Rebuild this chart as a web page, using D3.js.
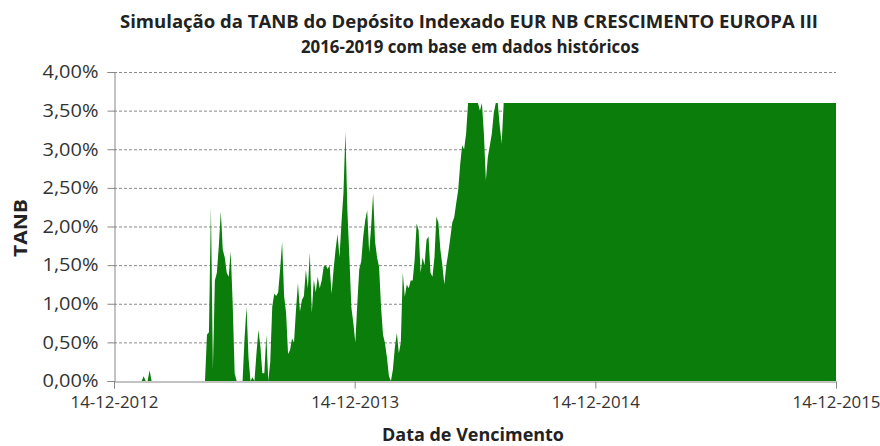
<!DOCTYPE html>
<html>
<head>
<meta charset="utf-8">
<script src="https://cdn.jsdelivr.net/npm/d3@7"></script>
<style>
  body { margin: 0; background: #fff; }
  text { font-family: "Open Sans", "Noto Sans", sans-serif; }
</style>
</head>
<body>
<script>
// chart texts
const titleLines = ["Simulação da TANB do Depósito Indexado EUR NB CRESCIMENTO EUROPA III",
                    "2016-2019 com base em dados históricos"];
const xTitle = "Data de Vencimento";
const yTitle = "TANB";

// one reading every 3 days starting at startDate (TANB in %)
const startDate = "2012-12-14";
const stepDays = 3;
const tanb = [
  0, 0, 0, 0, 0, 0, 0, 0, 0, 0, 0, 0, 0, 0, 0, 0.06, 0, 0, 0.14, 0,
  0, 0, 0, 0, 0, 0, 0, 0, 0, 0, 0, 0, 0, 0, 0, 0, 0, 0, 0, 0,
  0, 0, 0, 0, 0, 0, 0,
  // 47
  0.6, 0.63, 2.25, 0.15, 1.3, 1.4, 1.75, 2.19, 1.7, 1.6,
  1.4, 1.35, 1.68, 1.0, 0.1, 0, 0, 0, 0,
  // 66
  0.55, 0.96, 0.3, 0, 0.05, 0, 0.35, 0.66, 0.45, 0.1,
  0.1, 0.6, 0, 0.25, 0.96, 1.13, 1.1, 1.15, 1.45, 1.8,
  1.1, 0.88, 0.35, 0.4, 0.55, 0.5, 0.92, 1.27, 0.9, 1.05,
  1.1, 1.44, 1.2, 1.66, 0.88, 1.31, 1.15, 1.35, 1.2, 1.3,
  // 106
  1.48, 1.5, 1.45, 1.5, 1.13, 1.44, 1.7, 1.9, 1.6, 2.05,
  2.43, 3.23, 2.2, 1.6, 0.95, 0.75, 0.5, 1.0, 1.45, 1.55,
  1.87, 2.08, 2.21, 1.66, 2.0, 2.43, 1.8, 1.6, 1.48, 0.96,
  0.6, 0.49, 0.3, 0.06, 0, 0.15, 0.44, 0.62, 0.36, 0.5,
  // 146
  1.4, 1.09, 1.25, 1.2, 1.3, 1.3, 1.57, 2.04, 1.95, 1.4,
  1.6, 1.5, 1.83, 1.87, 1.4, 1.35, 1.6, 2.13, 2.05, 1.7,
  1.5, 1.25, 1.5, 1.66, 1.85, 2.05, 2.12, 2.3, 2.47, 2.8,
  3.05, 3.0, 3.2, 3.6, 3.6, 3.6, 3.6, 3.6, 3.6, 3.5,
  // 186
  3.6, 3.2, 2.6, 2.9, 3.05, 3.2, 3.47, 3.6, 3.6, 3.3,
  3.08, 3.6
];
// last point of the series
const endDate = "2015-12-14";
const endValue = 3.6;

const xTickLabels = ["14-12-2012", "14-12-2013", "14-12-2014", "14-12-2015"];
const yTickValues = [0, 0.5, 1, 1.5, 2, 2.5, 3, 3.5, 4];

const W = 880, H = 446;
const plotLeft = 114, plotRight = 836, plotTop = 72, plotBottom = 381;

const parse = d3.utcParse("%Y-%m-%d");
const parseTick = d3.utcParse("%d-%m-%Y");

const data = tanb.map((v, i) => ({date: d3.utcDay.offset(parse(startDate), i * stepDays), v: v}));
data.push({date: parse(endDate), v: endValue});

const svg = d3.select("body").append("svg")
  .attr("width", W).attr("height", H);

const x = d3.scaleUtc()
  .domain([parse(startDate), parse(endDate)])
  .range([plotLeft, plotRight]);
const y = d3.scaleLinear()
  .domain([0, 4])
  .range([plotBottom, plotTop]);

// dashed grid
svg.append("g")
  .selectAll("line")
  .data(yTickValues.filter(d => d > 0))
  .enter().append("line")
  .attr("x1", plotLeft).attr("x2", plotRight)
  .attr("y1", d => y(d) + 0.5).attr("y2", d => y(d) + 0.5)
  .attr("stroke", "#8a8a8a")
  .attr("stroke-width", 1)
  .attr("stroke-dasharray", "3,2");

// area
const area = d3.area()
  .x(d => x(d.date))
  .y0(y(0))
  .y1(d => y(d.v));
svg.append("path")
  .datum(data)
  .attr("d", area)
  .attr("fill", "#0a7d0a");

// y axis
const yAxis = svg.append("g")
  .attr("transform", "translate(" + (plotLeft + 0.5) + ",0)")
  .call(d3.axisLeft(y)
    .tickValues(yTickValues)
    .tickSize(7)
    .tickPadding(9)
    .tickFormat(d => d3.format(".2f")(d).replace(".", ",") + "%"));
yAxis.select(".domain").attr("stroke", "#868686");
yAxis.selectAll(".tick line").attr("stroke", "#868686");
yAxis.selectAll("text")
  .attr("fill", "#333")
  .style("font-size", "18px")
  .attr("textLength", 56).attr("lengthAdjust", "spacingAndGlyphs");

// x axis
const xAxis = svg.append("g")
  .attr("transform", "translate(0," + (plotBottom + 0.5) + ")")
  .call(d3.axisBottom(x)
    .tickValues(xTickLabels.map(parseTick))
    .tickSize(7)
    .tickPadding(7)
    .tickFormat(d3.utcFormat("%d-%m-%Y")));
xAxis.select(".domain").attr("stroke", "#868686");
xAxis.selectAll(".tick line").attr("stroke", "#868686");
xAxis.selectAll("text")
  .attr("fill", "#333")
  .style("font-size", "17px")
  .attr("textLength", 88).attr("lengthAdjust", "spacingAndGlyphs");

// titles
svg.append("text")
  .attr("x", 469).attr("y", 28)
  .attr("text-anchor", "middle")
  .attr("textLength", 698).attr("lengthAdjust", "spacingAndGlyphs")
  .style("font-size", "18.5px").style("font-weight", "bold").attr("fill", "#222")
  .text(titleLines[0]);
svg.append("text")
  .attr("x", 470).attr("y", 53)
  .attr("text-anchor", "middle")
  .attr("textLength", 338).attr("lengthAdjust", "spacingAndGlyphs")
  .style("font-size", "18.5px").style("font-weight", "bold").attr("fill", "#222")
  .text(titleLines[1]);

svg.append("text")
  .attr("transform", "translate(27,228) rotate(-90)")
  .attr("text-anchor", "middle")
  .attr("textLength", 58).attr("lengthAdjust", "spacingAndGlyphs")
  .style("font-size", "18px").style("font-weight", "bold").attr("fill", "#222")
  .text(yTitle);

svg.append("text")
  .attr("x", 473).attr("y", 441)
  .attr("text-anchor", "middle")
  .attr("textLength", 182).attr("lengthAdjust", "spacingAndGlyphs")
  .style("font-size", "18px").style("font-weight", "bold").attr("fill", "#222")
  .text(xTitle);
</script>
</body>
</html>
